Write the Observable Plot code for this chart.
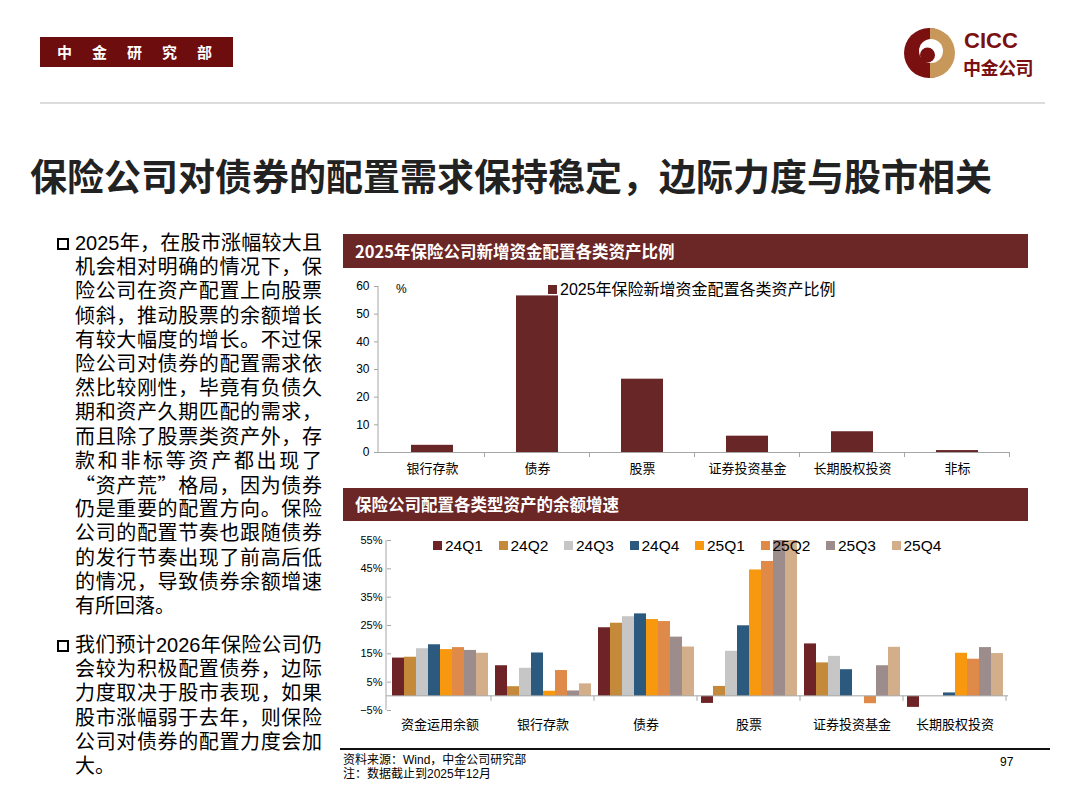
<!DOCTYPE html>
<html><head><meta charset="utf-8">
<script src="https://cdn.jsdelivr.net/npm/d3@7"></script>
<script src="https://cdn.jsdelivr.net/npm/@observablehq/plot@0.6"></script>
<style>
body{margin:0;width:1080px;height:809px;position:relative;background:#fff;font-family:"Liberation Sans","Noto Sans CJK SC",sans-serif;overflow:hidden;color:#000}
.abs{position:absolute}
.cjk{font-family:"Noto Sans CJK SC",sans-serif}
.ln{position:absolute;left:75px;width:247px;height:24px;font-size:20px;line-height:24px;white-space:nowrap;text-align:justify;text-align-last:justify}
.ln.last{text-align-last:left}
.bullet{position:absolute;left:57px;width:8px;height:8px;border:2.5px solid #000}
.hbar{position:absolute;left:343px;width:685px;background:#6b2626;color:#fff;font-family:"Noto Sans CJK SC",sans-serif;font-weight:bold;font-size:16.5px;padding-left:12px;box-sizing:border-box}
.leg{position:absolute;font-size:15.5px;line-height:18px;white-space:nowrap}
.leg i{display:inline-block;width:9px;height:9px;margin-right:3px;vertical-align:1px}
</style></head><body>
<div class="abs cjk" style="left:40px;top:37px;width:193px;height:30px;background:#6e0d0d;color:#fff;font-weight:bold;font-size:15px;line-height:30px;letter-spacing:20px;padding-left:17px;box-sizing:border-box">中金研究部</div>
<svg class="abs" style="left:903px;top:27px" width="52" height="52" viewBox="0 0 52 52">
  <circle cx="26" cy="26" r="25" fill="#7a1010"/>
  <path d="M27 1 A25 25 0 0 1 27 51 Z" fill="#c8975a"/>
  <circle cx="28" cy="24" r="12" fill="#fff"/>
  <circle cx="24.5" cy="28" r="7.5" fill="#7a1010"/>
</svg>
<div class="abs" style="left:964px;top:28px;font-size:22px;font-weight:bold;color:#7a1010;line-height:25px">CICC</div>
<div class="abs cjk" style="left:963px;top:57px;font-size:18px;font-weight:bold;color:#7a1010;line-height:20px;letter-spacing:-0.5px">中金公司</div>
<div class="abs" style="left:40px;top:102px;width:1005px;height:2px;background:#dcdcdc"></div>
<div class="abs cjk" style="left:30px;top:152px;font-size:37px;font-weight:bold;line-height:46px;color:#222;white-space:nowrap">保险公司对债券的配置需求保持稳定，边际力度与股市相关</div>

<div id="text"></div>

<div class="hbar" style="top:234px;height:34px;line-height:34px">2025年保险公司新增资金配置各类资产比例</div>
<div class="hbar" style="top:488px;height:33px;line-height:33px">保险公司配置各类型资产的余额增速</div>

<div id="chart1" class="abs" style="left:340px;top:276px"></div>
<div id="chart2" class="abs" style="left:340px;top:530px"></div>

<div class="abs" style="left:396px;top:282px;font-size:12px">%</div>
<div class="leg" style="left:548px;top:281px;font-size:16px"><i style="background:#682626"></i>2025年保险新增资金配置各类资产比例</div>
<div id="leg2"></div>

<div class="abs" style="left:340px;top:748px;width:710px;height:2px;background:#111"></div>
<div class="abs" style="left:343px;top:753px;font-size:12px;line-height:14px">资料来源：Wind，中金公司研究部<br>注：数据截止到2025年12月</div>
<div class="abs" style="left:1000px;top:755px;font-size:12px">97</div>

<script>
// ---------- data ----------
const allocCats = ["银行存款","债券","股票","证券投资基金","长期股权投资","非标"];
const allocVals = [2.6, 56.6, 26.5, 5.9, 7.5, 0.7];

const growthCats = ["资金运用余额","银行存款","债券","股票","证券投资基金","长期股权投资"];
const quarters = ["24Q1","24Q2","24Q3","24Q4","25Q1","25Q2","25Q3","25Q4"];
const q24Q1 = [13.5, 10.8, 24.2, -2.5, 18.5, -3.9];
const q24Q2 = [13.8, 3.4, 25.8, 3.5, 11.8, 0];
const q24Q3 = [16.8, 9.9, 28.1, 15.9, 14.1, 0];
const q24Q4 = [18.2, 15.3, 29.1, 24.9, 9.4, 1.2];
const q25Q1 = [16.5, 1.8, 27.1, 44.6, 0, 15.2];
const q25Q2 = [17.2, 9.1, 26.4, 47.6, -2.6, 13.1];
const q25Q3 = [16.2, 1.9, 20.9, 55, 10.8, 17.2];
const q25Q4 = [15.2, 4.4, 17.4, 55, 17.3, 15.1];
const quarterColors = ["#6e2326","#c48a3a","#c6c6c6","#2b5a7e","#f7980f","#df8a48","#9d8c8c","#d3ae8a"];
const yTicks2 = [-5, 5, 15, 25, 35, 45, 55];
const yTicks1 = [0, 10, 20, 30, 40, 50, 60];

const para1 = ["2025年，在股市涨幅较大且","机会相对明确的情况下，保","险公司在资产配置上向股票","倾斜，推动股票的余额增长","有较大幅度的增长。不过保","险公司对债券的配置需求依","然比较刚性，毕竟有负债久","期和资产久期匹配的需求，","而且除了股票类资产外，存","款和非标等资产都出现了","<span class='cjk'>“</span>资产荒<span class='cjk'>”</span>格局，因为债券","仍是重要的配置方向。保险","公司的配置节奏也跟随债券","的发行节奏出现了前高后低","的情况，导致债券余额增速","有所回落。"];
const para2 = ["我们预计2026年保险公司仍","会较为积极配置债券，边际","力度取决于股市表现，如果","股市涨幅弱于去年，则保险","公司对债券的配置力度会加","大。"];

// ---------- body text ----------
const textDiv = document.getElementById("text");
function addPara(lines, top) {
  const b = document.createElement("div");
  b.className = "bullet"; b.style.top = (top + 7) + "px";
  textDiv.appendChild(b);
  lines.forEach((t, i) => {
    const d = document.createElement("div");
    d.className = "ln" + (i === lines.length - 1 ? " last" : "");
    d.style.top = (top + i * 24.2) + "px";
    d.innerHTML = t;
    textDiv.appendChild(d);
  });
}
addPara(para1, 231);
addPara(para2, 633);

// ---------- chart 1 ----------
const axisColor = "#a6a6a6";
const c1 = Plot.plot({
  width: 690, height: 210,
  marginLeft: 38, marginRight: 20, marginTop: 10, marginBottom: 34,
  style: {fontFamily: "Liberation Sans, Noto Sans CJK SC", background: "transparent"},
  x: {domain: allocCats, paddingInner: 0.6, paddingOuter: 0.3, label: null},
  y: {domain: [0, 60], label: null},
  marks: [
    Plot.barY(allocCats, {x: d => d, y: (d, i) => allocVals[i], fill: "#682626"}),
    Plot.ruleY([0], {stroke: axisColor}),
    Plot.axisY({ticks: yTicks1, tickSize: 4, tickPadding: 5, fontSize: 12, stroke: axisColor, color: "#000", label: null}),
    Plot.axisX({tickSize: 0, tickPadding: 11, fontSize: 13, fontFamily: "Noto Sans CJK SC", label: null})
  ]
});
document.getElementById("chart1").appendChild(c1);
(function(){
  const svg = d3.select(c1);
  const x = c1.scale("x"), y = c1.scale("y");
  const x0 = 38;
  svg.append("line").attr("x1", x0).attr("x2", x0).attr("y1", y.apply(60)).attr("y2", y.apply(0)).attr("stroke", axisColor);
  const gap = (x.step - x.bandwidth) / 2;
  allocCats.forEach((c, i) => {
    if (i === 0) return;
    const bx = x.apply(c) - gap;
    svg.append("line").attr("x1", bx).attr("x2", bx).attr("y1", y.apply(0)).attr("y2", y.apply(0) + 5).attr("stroke", axisColor);
  });
  const ex = x.apply(allocCats[allocCats.length-1]) + x.bandwidth + gap;
  svg.append("line").attr("x1", ex).attr("x2", ex).attr("y1", y.apply(0)).attr("y2", y.apply(0) + 5).attr("stroke", axisColor);
})();

// ---------- chart 2 ----------
const qSeries = [q24Q1, q24Q2, q24Q3, q24Q4, q25Q1, q25Q2, q25Q3, q25Q4];
const rows = [];
growthCats.forEach((c, ci) => quarters.forEach((q, qi) => rows.push({cat: c, q, v: qSeries[qi][ci]})));
const c2 = Plot.plot({
  width: 680, height: 208,
  marginLeft: 46, marginRight: 12, marginTop: 10, marginBottom: 28,
  style: {fontFamily: "Liberation Sans, Noto Sans CJK SC", background: "transparent"},
  fx: {domain: growthCats, paddingInner: 0.06, paddingOuter: 0.03, label: null, axis: null},
  x: {domain: quarters, padding: 0, axis: null},
  y: {domain: [-5, 55], label: null},
  color: {domain: quarters, range: quarterColors},
  marks: [
    Plot.barY(rows, {fx: "cat", x: "q", y: "v", fill: "q"}),
    Plot.axisY({ticks: yTicks2, tickSize: 4, tickPadding: 5, fontSize: 11, stroke: axisColor, color: "#000", label: null,
      tickFormat: d => (d < 0 ? "−" : "") + Math.abs(d) + "%"}),
    Plot.axisFx({anchor: "bottom", tickSize: 0, tickPadding: 9, fontSize: 13, fontFamily: "Noto Sans CJK SC", label: null})
  ]
});
document.getElementById("chart2").appendChild(c2);
(function(){
  const svg = d3.select(c2);
  const fx = c2.scale("fx"), y = c2.scale("y");
  const x0 = 46, x1 = 680 - 12;
  const y0 = y.apply(0);
  svg.append("line").attr("x1", x0).attr("x2", x0).attr("y1", y.apply(55)).attr("y2", y.apply(-5)).attr("stroke", axisColor);
  svg.append("line").attr("x1", x0).attr("x2", x1).attr("y1", y0).attr("y2", y0).attr("stroke", axisColor);
  const gap = (fx.step - fx.bandwidth) / 2;
  growthCats.forEach((c, i) => {
    if (i === 0) return;
    const bx = fx.apply(c) - gap;
    svg.append("line").attr("x1", bx).attr("x2", bx).attr("y1", y0).attr("y2", y0 + 5).attr("stroke", axisColor);
  });
  const ex = fx.apply(growthCats[growthCats.length-1]) + fx.bandwidth + gap;
  svg.append("line").attr("x1", ex).attr("x2", ex).attr("y1", y0).attr("y2", y0 + 5).attr("stroke", axisColor);
})();

// ---------- legend 2 ----------
const leg2 = document.getElementById("leg2");
quarters.forEach((q, i) => {
  const d = document.createElement("div");
  d.className = "leg";
  d.style.left = (433 + i * 65.5) + "px";
  d.style.top = "537px";
  d.innerHTML = `<i style="background:${quarterColors[i]}"></i>${q}`;
  leg2.appendChild(d);
});
</script>
</body></html>
